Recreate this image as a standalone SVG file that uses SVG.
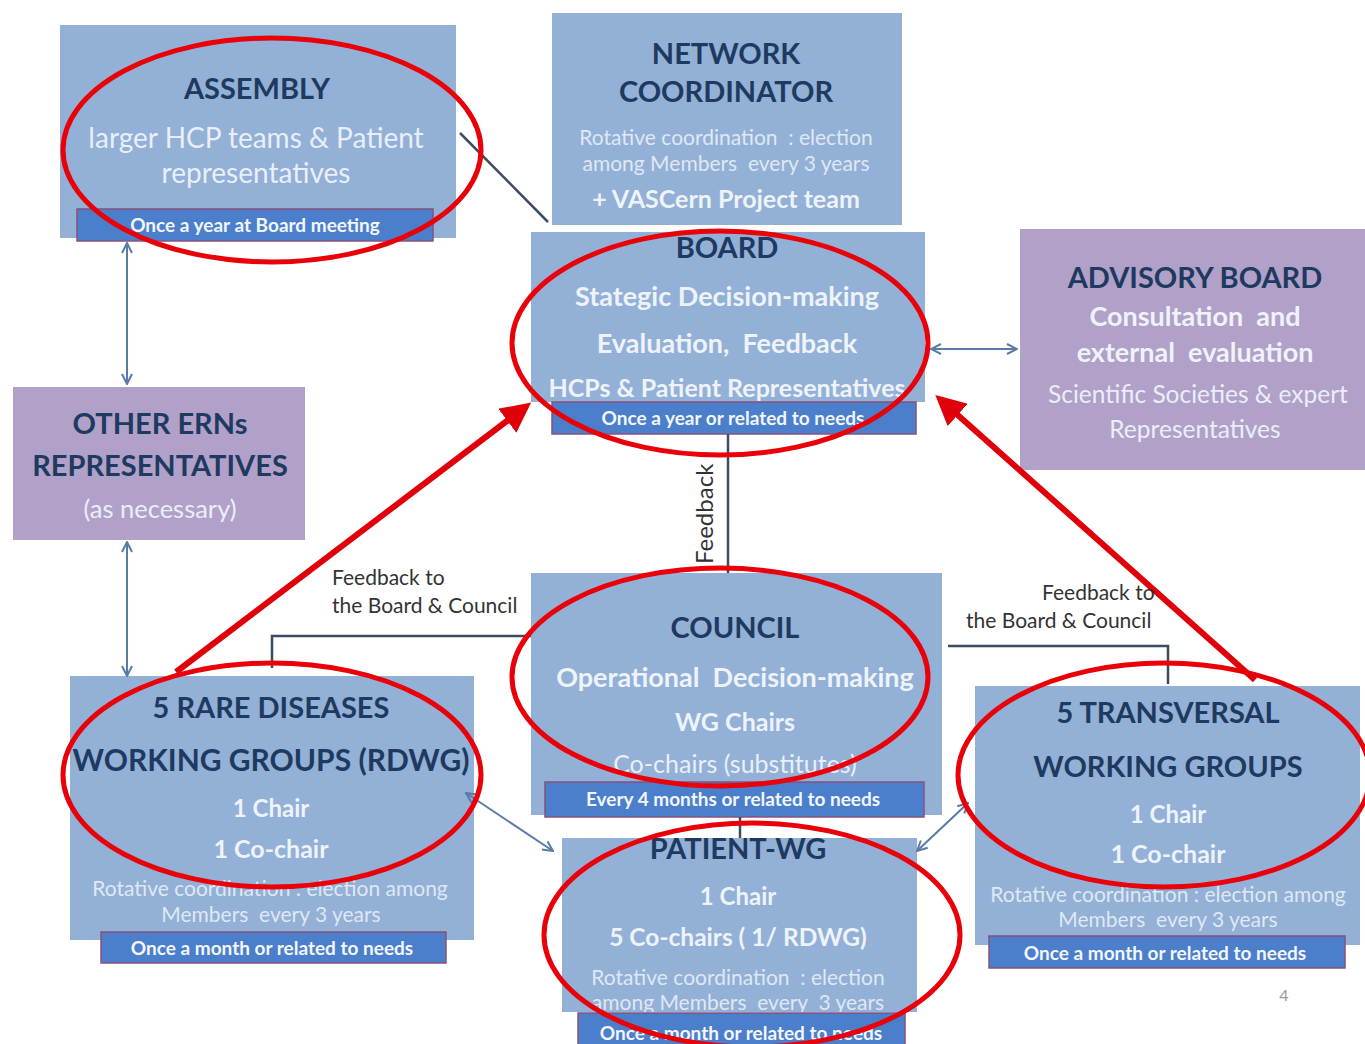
<svg xmlns="http://www.w3.org/2000/svg" width="1365" height="1044" viewBox="0 0 1365 1044">
<defs>
<style>
.box{fill:#93b0d7}
.pbox{fill:#b1a1c8}
.bar{fill:#4c7fcb;stroke:#86527e;stroke-width:1.5}
text{font-family:Lato,"Open Sans","Liberation Sans",sans-serif;text-anchor:middle;white-space:pre}
.t{font-weight:700;fill:#1e3a60;font-size:29px}
.w{font-weight:700;fill:#eef3fa;font-size:27px}
.s{fill:#e9eff8;font-size:24px}
.f{fill:#dfe8f4;font-size:21px}
.b{font-weight:700;fill:#f2f6fc;font-size:19px}
.lbl{fill:#333;font-size:21px;text-anchor:start}
.ln{stroke:#3c4c63;stroke-width:2.5;fill:none}
.ar{stroke:#5a7ba6;stroke-width:2;fill:none;marker-start:url(#oa);marker-end:url(#oa)}
.red{stroke:#e0000a;stroke-width:6;fill:none;marker-end:url(#ra)}
.el{fill:none;stroke:#ea0008;stroke-width:5}
</style>
<marker id="oa" viewBox="0 0 12 12" refX="11" refY="6" markerWidth="12" markerHeight="12" markerUnits="userSpaceOnUse" orient="auto-start-reverse">
<path d="M1,1 L11,6 L1,11" fill="none" stroke="#5a7ba6" stroke-width="2"/>
</marker>
<marker id="ra" viewBox="0 0 10 10" refX="7" refY="5" markerWidth="5" markerHeight="5" orient="auto">
<path d="M0,0 L10,5 L0,10 z" fill="#e0000a"/>
</marker>
</defs>
<rect width="1365" height="1044" fill="#ffffff"/>

<g id="assembly">
<rect class="box" x="60" y="25" width="396" height="213"/>
<text class="t" x="257" y="99">ASSEMBLY</text>
<text class="s" x="256" y="148" style="font-size:28px">larger HCP teams &amp; Patient</text>
<text class="s" x="256" y="183" style="font-size:28px">representatives</text>
<rect class="bar" x="77" y="209" width="356" height="32"/>
<text class="b" x="255" y="232">Once a year at Board meeting</text>
</g>

<g id="network-coordinator">
<rect class="box" x="552" y="13" width="350" height="212"/>
<text class="t" x="726" y="64">NETWORK</text>
<text class="t" x="726" y="102">COORDINATOR</text>
<text class="f" x="726" y="145">Rotative coordination  : election</text>
<text class="f" x="726" y="171">among Members  every 3 years</text>
<text class="w" x="726" y="208" style="font-size:25px">+ VASCern Project team</text>
</g>

<g id="board">
<rect class="box" x="531" y="232" width="394" height="170"/>
<text class="t" x="727" y="258">BOARD</text>
<text class="w" x="727" y="306">Stategic Decision-making</text>
<text class="w" x="727" y="353">Evaluation,  Feedback</text>
<text class="w" x="727" y="397" style="font-size:25px">HCPs &amp; Patient Representatives</text>
<rect class="bar" x="552" y="402" width="364" height="32"/>
<text class="b" x="733" y="425">Once a year or related to needs</text>
</g>

<g id="advisory-board">
<rect class="pbox" x="1020" y="229" width="345" height="241"/>
<text class="t" x="1195" y="288">ADVISORY BOARD</text>
<text class="w" x="1195" y="326">Consultation  and</text>
<text class="w" x="1195" y="362">external  evaluation</text>
<text class="s" x="1198" y="403" style="font-size:24.5px">Scientific Societies &amp; expert</text>
<text class="s" x="1195" y="438" style="font-size:24.5px">Representatives</text>
</g>

<g id="other-erns">
<rect class="pbox" x="13" y="387" width="292" height="153"/>
<text class="t" x="160" y="434">OTHER ERNs</text>
<text class="t" x="160" y="476">REPRESENTATIVES</text>
<text class="s" x="160" y="518" style="font-size:25.5px">(as necessary)</text>
</g>

<g id="council">
<rect class="box" x="531" y="573" width="411" height="242"/>
<text class="t" x="735" y="638">COUNCIL</text>
<text class="w" x="735" y="687">Operational  Decision-making</text>
<text class="w" x="735" y="731" style="font-size:25px">WG Chairs</text>
<text class="s" x="735" y="773" style="font-size:25px">Co-chairs (substitutes)</text>
<rect class="bar" x="545" y="782" width="379" height="35"/>
<text class="b" x="733" y="806">Every 4 months or related to needs</text>
</g>

<g id="rdwg">
<rect class="box" x="70" y="676" width="404" height="264"/>
<text class="t" x="271" y="718">5 RARE DISEASES</text>
<text class="t" x="271" y="771" style="font-size:30px">WORKING GROUPS (RDWG)</text>
<text class="w" x="271" y="817" style="font-size:24px">1 Chair</text>
<text class="w" x="271" y="858" style="font-size:25px">1 Co-chair</text>
<text class="f" x="270" y="896">Rotative coordination : election among</text>
<text class="f" x="271" y="922">Members  every 3 years</text>
<rect class="bar" x="101" y="932" width="345" height="31"/>
<text class="b" x="272" y="955">Once a month or related to needs</text>
</g>

<g id="twg">
<rect class="box" x="975" y="686" width="385" height="259"/>
<text class="t" x="1168" y="723">5 TRANSVERSAL</text>
<text class="t" x="1168" y="777">WORKING GROUPS</text>
<text class="w" x="1168" y="823" style="font-size:24px">1 Chair</text>
<text class="w" x="1168" y="863" style="font-size:25px">1 Co-chair</text>
<text class="f" x="1168" y="902">Rotative coordination : election among</text>
<text class="f" x="1168" y="927">Members  every 3 years</text>
<rect class="bar" x="989" y="936" width="356" height="32"/>
<text class="b" x="1165" y="960">Once a month or related to needs</text>
</g>

<g id="patient-wg">
<rect class="box" x="562" y="838" width="355" height="174"/>
<text class="t" x="738" y="859">PATIENT-WG</text>
<text class="w" x="738" y="905" style="font-size:24px">1 Chair</text>
<text class="w" x="738" y="946" style="font-size:24.5px">5 Co-chairs ( 1/ RDWG)</text>
<text class="f" x="738" y="985">Rotative coordination  : election</text>
<text class="f" x="738" y="1010">among Members  every  3 years</text>
<rect class="bar" x="578" y="1013" width="327" height="32"/>
<text class="b" x="741" y="1040">Once a month or related to needs</text>
</g>

<g id="connectors">
<line class="ln" x1="460" y1="133" x2="548" y2="222"/>
<line class="ln" x1="728" y1="434" x2="728" y2="573"/>
<line class="ln" x1="740" y1="817" x2="740" y2="838"/>
<polyline class="ln" points="272,668 272,636 531,636"/>
<polyline class="ln" points="948,646 1168,646 1168,684"/>
<line class="ar" x1="127" y1="243" x2="127" y2="384"/>
<line class="ar" x1="127" y1="542" x2="127" y2="676"/>
<line class="ar" x1="931" y1="349" x2="1017" y2="349"/>
<line class="ar" x1="466" y1="793" x2="553" y2="851"/>
<line class="ar" x1="968" y1="803" x2="917" y2="851"/>
<line class="red" x1="176" y1="672" x2="524" y2="408"/>
<line class="red" x1="1255" y1="680" x2="942" y2="401"/>
<text class="lbl" x="332" y="585">Feedback to</text>
<text class="lbl" x="332" y="613">the Board &amp; Council</text>
<text class="lbl" x="1042" y="600">Feedback to</text>
<text class="lbl" x="966" y="628">the Board &amp; Council</text>
<text class="lbl" style="font-size:24px" transform="translate(713,564) rotate(-90)">Feedback</text>
</g>

<g id="highlights">
<ellipse class="el" cx="272" cy="150" rx="209" ry="112"/>
<ellipse class="el" cx="720" cy="343" rx="208" ry="112"/>
<ellipse class="el" cx="720" cy="677" rx="208" ry="109"/>
<ellipse class="el" cx="272" cy="775" rx="209" ry="112"/>
<ellipse class="el" cx="1164" cy="775" rx="206" ry="112"/>
<ellipse class="el" cx="752" cy="935" rx="208" ry="112"/>
</g>
<text x="1284" y="1001" font-size="16" fill="#999">4</text>
</svg>
